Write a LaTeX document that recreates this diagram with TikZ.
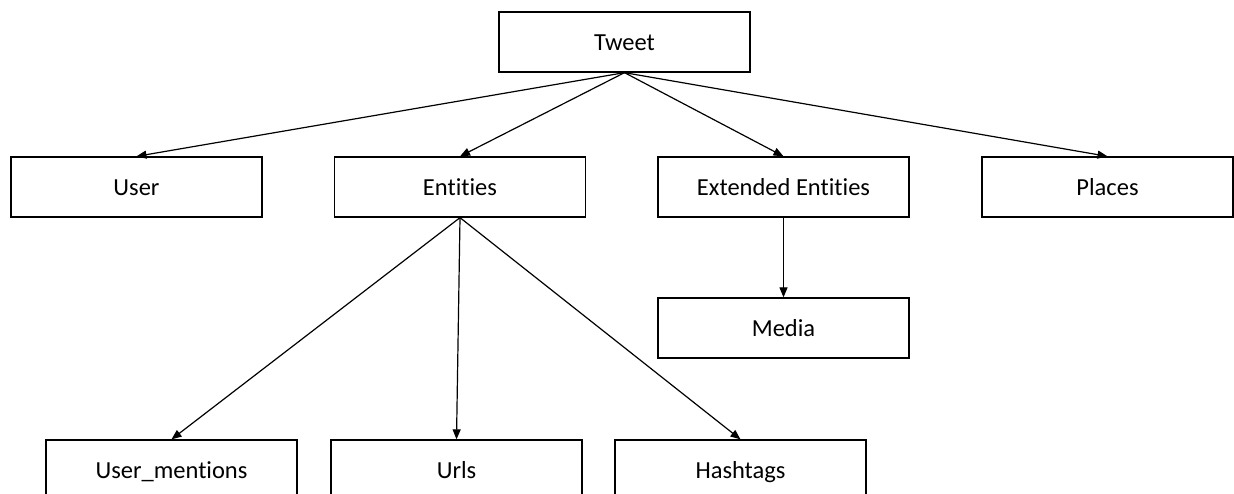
\documentclass[tikz,border=0pt]{standalone}
\usepackage{fontspec}
\setmainfont[Ligatures={NoCommon}]{Carlito}
\usetikzlibrary{arrows.meta}
\begin{document}
\begin{tikzpicture}[x=1pt,y=-1pt,
  entity/.style={draw=black,line width=1.3pt,minimum width=251pt,minimum height=60pt,
    inner sep=0pt,text height=17pt,text depth=0pt,
    font=\fontsize{24.5}{28}\selectfont,text=black},
  link/.style={draw=black,line width=1.2pt,-{Triangle[length=10pt,width=8pt]}}]
\useasboundingbox (0,0) rectangle (1234,493);
\clip (0,0) rectangle (1234,493);
\fill[white] (0,0) rectangle (1234,493);
% nodes
\node[entity] (tweet) at (624.5,42) {Tweet};
\node[entity] (user) at (136.5,187) {User};
\node[entity] (ent) at (460,187) {Entities};
\node[entity] (ext) at (783.5,187) {Extended Entities};
\node[entity] (places) at (1107.5,187) {Places};
\node[entity] (media) at (783.5,328) {Media};
\node[entity] (mentions) at (171.5,470) {User\_mentions};
\node[entity] (urls) at (456.5,470) {Urls};
\node[entity] (tags) at (740.5,470) {Hashtags};
% connectors
\draw[link] (tweet.south) -- (user.north);
\draw[link] (tweet.south) -- (ent.north);
\draw[link] (tweet.south) -- (ext.north);
\draw[link] (tweet.south) -- (places.north);
\draw[link] (ext.south) -- (media.north);
\draw[link] (ent.south) -- (mentions.north);
\draw[link] (ent.south) -- (urls.north);
\draw[link] (ent.south) -- (tags.north);
\end{tikzpicture}
\end{document}
